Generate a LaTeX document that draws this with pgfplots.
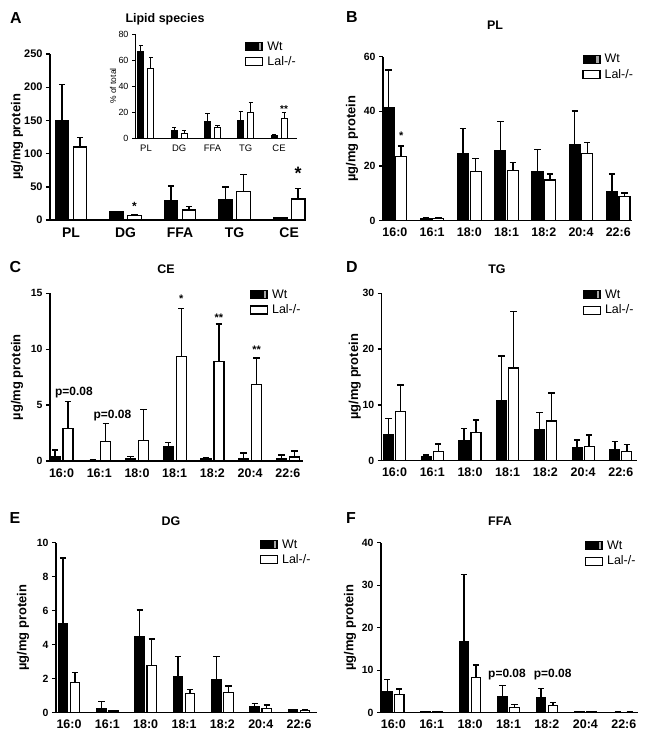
\documentclass[border=0pt]{standalone}
\usepackage{fontspec}
\setmainfont{Liberation Sans}
\usepackage{pgfplots}
\pgfplotsset{compat=1.18}
\usepackage{pgfplotstable}

% x wt (mean) wtt (mean+SD) lal lalt
\pgfplotstableread{
x wt wtt lal lalt
0 149 204 110 124.5
1 12.6 13.2 6.5 8.6
2 29 51 15.2 20.7
3 31 49.5 43.3 68.7
4 3.5 4.2 31.5 47.5
}\dataA
\pgfplotstableread{
x wt wtt lal lalt
0 66.5 71 53.7 62.1
1 5.9 8.4 3.8 5.9
2 12.5 19.2 7.7 10
3 13.5 20.4 19.9 27.3
4 1.8 3 14.8 19.7
}\dataAi
\pgfplotstableread{
x wt wtt lal lalt
0 41.5 55.1 23.4 27.3
1 0.8 1.0 0.9 1.1
2 24.6 33.8 17.9 22.8
3 25.6 36.2 18.5 21.3
4 17.9 26.1 14.9 17.1
5 28 40.1 24.6 28.7
6 10.6 17.1 8.8 10.2
}\dataB
\pgfplotstableread{
x wt wtt lal lalt
0 0.4 1.0 2.9 5.3
1 0.08 0.1 1.73 3.37
2 0.2 0.4 1.8 4.6
3 1.28 1.67 9.33 13.66
4 0.25 0.3 8.9 12.26
5 0.25 0.7 6.86 9.2
6 0.25 0.55 0.35 0.9
}\dataC
\pgfplotstableread{
x wt wtt lal lalt
0 4.6 7.6 8.8 13.6
1 0.7 1.0 1.6 3.0
2 3.6 5.8 5.1 7.3
3 10.7 18.8 16.6 26.7
4 5.5 8.6 7.1 12.1
5 2.3 3.7 2.6 4.6
6 2.0 3.4 1.6 2.9
}\dataD
\pgfplotstableread{
x wt wtt lal lalt
0 5.25 9.1 1.76 2.37
1 0.24 0.65 0.1 0.12
2 4.47 6.04 2.76 4.33
3 2.12 3.3 1.14 1.37
4 1.96 3.3 1.2 1.57
5 0.35 0.55 0.25 0.45
6 0.16 0.2 0.12 0.15
}\dataE
\pgfplotstableread{
x wt wtt lal lalt
0 4.9 7.8 4.2 5.6
1 0.2 0.25 0.2 0.25
2 16.8 32.5 8.2 11.2
3 3.9 6.35 1.2 2.0
4 3.6 5.7 1.65 2.35
5 0.15 0.2 0.15 0.2
6 0.1 0.12 0.1 0.12
}\dataF

\pgfplotsset{
 panel/.style={
  scale only axis, axis lines*=left, clip=false, ymin=0, ybar,
  axis line style={line width=1.4bp},
  tick style={line width=1.4bp, black},
  major tick length=4bp, tick align=outside,
  xtick style={draw=none},
  xtick={0,...,6}, xticklabels={16:0,16:1,18:0,18:1,18:2,20:4,22:6},
  /pgf/number format/assume math mode=true,
  yticklabel style={font=\fontsize{10.5}{12}\selectfont\bfseries},
  xticklabel style={font=\fontsize{12.5}{14}\selectfont\bfseries},
  ylabel={µg/mg protein},
  ylabel style={font=\fontsize{13}{15}\selectfont\bfseries, at={(axis description cs:0,0.5)}, anchor=center},
  legend style={draw=none, fill=none, inner sep=0pt, outer sep=0pt,
    font=\fontsize{12.5}{14}\selectfont, row sep=2bp, anchor=north east,
    nodes={inner sep=1.5bp},
    /tikz/every odd column/.append style={column sep=2.5bp}},
  legend cell align=left,
 },
 eb/.style={
   error bars/y dir=plus, error bars/y explicit,
   error bars/error bar style={line width=1.4bp, black},
   error bars/error mark options={rotate=90, line width=1.4bp, mark size=3.2bp, black},
 },
 wt/.style={fill=black, draw=black, line width=1.2bp, eb,
   legend image code/.code={\draw[fill=black,draw=black,line width=1bp] (0bp,-4bp) rectangle (17bp,4bp);
     \fill[gray!70] (13.8bp,-2.8bp) rectangle (15bp,2.8bp);}},
 lal/.style={fill=white, draw=black, line width=1.2bp, eb,
   legend image code/.code={\draw[fill=white,draw=black,line width=1.2bp] (0bp,-4bp) rectangle (17bp,4bp);}},
}

\newcommand{\ann}[1]{\fontsize{#1}{#1}\selectfont\bfseries}

\begin{document}
\begin{tikzpicture}
\useasboundingbox (0,0) rectangle (650bp,-737bp);

% ---------- A main
\begin{axis}[panel, at={(50bp,-220bp)}, anchor=south west,
  width=255bp, height=166bp, xmin=-0.385, xmax=4.29, ymax=250,
  ytick={0,50,...,250}, xtick={0,...,4}, xticklabels={PL,DG,FFA,TG,CE},
  yticklabel style={font=\fontsize{11}{12}\selectfont\bfseries},
  xticklabel style={font=\fontsize{14}{16}\selectfont\bfseries},
  ylabel style={yshift=33bp},
  legend style={at={(rel axis cs:0.97,1.084)}}]
\addplot[wt, bar width=13.5bp, bar shift=-9bp] table[x=x,y=wt,y error expr=\thisrow{wtt}-\thisrow{wt}] {\dataA};
\addplot[lal, bar width=13.5bp, bar shift=9bp] table[x=x,y=lal,y error expr=\thisrow{lalt}-\thisrow{lal}] {\dataA};
\legend{Wt,Lal-/-}
\node[font=\ann{12}] at (axis cs:1,25) [xshift=9bp, yshift=-2.6bp] {*};
\node[font=\ann{18}] at (axis cs:4,75.7) [xshift=9bp, yshift=-4bp] {*};
\end{axis}

% ---------- A inset
\begin{axis}[panel, at={(135bp,-138bp)}, anchor=south west,
  width=162bp, height=104bp, xmin=-0.33, xmax=4.54, ymax=80,
  axis line style={line width=1bp}, tick style={line width=1bp, black}, major tick length=3bp,
  ytick={0,20,...,80}, xtick={0,...,4}, xticklabels={PL,DG,FFA,TG,CE},
  yticklabel style={font=\fontsize{9}{10}\selectfont},
  xticklabel style={font=\fontsize{9.5}{10}\selectfont},
  ylabel={\% of total},
  ylabel style={font=\fontsize{8.5}{10}\selectfont, yshift=22bp}]
\addplot[wt, line width=1bp, bar width=6bp, bar shift=-5bp,
  error bars/error bar style={line width=1bp}, error bars/error mark options={rotate=90, line width=1bp, mark size=2.2bp}]
  table[x=x,y=wt,y error expr=\thisrow{wtt}-\thisrow{wt}] {\dataAi};
\addplot[lal, line width=1bp, bar width=6bp, bar shift=5bp,
  error bars/error bar style={line width=1bp}, error bars/error mark options={rotate=90, line width=1bp, mark size=2.2bp}]
  table[x=x,y=lal,y error expr=\thisrow{lalt}-\thisrow{lal}] {\dataAi};
\node[font=\ann{10}] at (axis cs:4,23.6) [xshift=5bp, yshift=-2.2bp] {**};
\end{axis}

% ---------- B
\begin{axis}[panel, at={(383bp,-220.7bp)}, anchor=south west,
  width=249bp, height=164bp, xmin=-0.32, xmax=6.37, ymax=60,
  ytick={0,20,40,60}, ylabel style={yshift=31bp},
  legend style={at={(rel axis cs:1.01,1.024)}}]
\addplot[wt, bar width=11bp, bar shift=-6.25bp] table[x=x,y=wt,y error expr=\thisrow{wtt}-\thisrow{wt}] {\dataB};
\addplot[lal, bar width=11bp, bar shift=6.25bp] table[x=x,y=lal,y error expr=\thisrow{lalt}-\thisrow{lal}] {\dataB};
\legend{Wt,Lal-/-}
\node[font=\ann{11}] at (axis cs:0,32) [xshift=6.25bp, yshift=-2.4bp] {*};
\end{axis}

% ---------- C
\begin{axis}[panel, at={(50bp,-461bp)}, anchor=south west,
  width=253bp, height=167.7bp, xmin=-0.305, xmax=6.40, ymax=15,
  ytick={0,5,10,15}, ylabel style={yshift=33bp},
  legend style={at={(rel axis cs:0.996,1.03)}}]
\addplot[wt, bar width=10bp, bar shift=-6.5bp] table[x=x,y=wt,y error expr=\thisrow{wtt}-\thisrow{wt}] {\dataC};
\addplot[lal, bar width=10bp, bar shift=6.5bp] table[x=x,y=lal,y error expr=\thisrow{lalt}-\thisrow{lal}] {\dataC};
\legend{Wt,Lal-/-}
\node[font=\ann{12}] at (axis cs:0.33,6.1) {p=0.08};
\node[font=\ann{12}] at (axis cs:1.35,4.1) {p=0.08};
\node[font=\ann{11}] at (axis cs:3,14.7) [xshift=6.5bp, yshift=-2.4bp] {*};
\node[font=\ann{11}] at (axis cs:4,13.06) [xshift=6.5bp, yshift=-2.4bp] {**};
\node[font=\ann{11}] at (axis cs:5,10.2) [xshift=6.5bp, yshift=-2.4bp] {**};
\end{axis}

% ---------- D
\begin{axis}[panel, at={(381.7bp,-460.7bp)}, anchor=south west,
  width=255bp, height=167.4bp, xmin=-0.34, xmax=6.42, ymax=30,
  ytick={0,10,20,30}, ylabel style={yshift=27bp},
  legend style={at={(rel axis cs:0.993,1.03)}}]
\addplot[wt, bar width=10bp, bar shift=-6bp] table[x=x,y=wt,y error expr=\thisrow{wtt}-\thisrow{wt}] {\dataD};
\addplot[lal, bar width=10bp, bar shift=6bp] table[x=x,y=lal,y error expr=\thisrow{lalt}-\thisrow{lal}] {\dataD};
\legend{Wt,Lal-/-}
\end{axis}

% ---------- E
\begin{axis}[panel, at={(56bp,-712.7bp)}, anchor=south west,
  width=260.7bp, height=170bp, xmin=-0.34, xmax=6.46, ymax=10,
  ytick={0,2,...,10}, ylabel style={yshift=33bp},
  legend style={at={(rel axis cs:0.982,1.028)}}]
\addplot[wt, bar width=9.5bp, bar shift=-6bp] table[x=x,y=wt,y error expr=\thisrow{wtt}-\thisrow{wt}] {\dataE};
\addplot[lal, bar width=9.5bp, bar shift=6bp] table[x=x,y=lal,y error expr=\thisrow{lalt}-\thisrow{lal}] {\dataE};
\legend{Wt,Lal-/-}
\end{axis}

% ---------- F
\begin{axis}[panel, at={(381bp,-712.7bp)}, anchor=south west,
  width=257bp, height=170bp, xmin=-0.32, xmax=6.37, ymax=40,
  ytick={0,10,...,40}, ylabel style={yshift=31bp},
  legend style={at={(rel axis cs:0.996,1.02)}}]
\addplot[wt, bar width=9.5bp, bar shift=-6bp] table[x=x,y=wt,y error expr=\thisrow{wtt}-\thisrow{wt}] {\dataF};
\addplot[lal, bar width=9.5bp, bar shift=6bp] table[x=x,y=lal,y error expr=\thisrow{lalt}-\thisrow{lal}] {\dataF};
\legend{Wt,Lal-/-}
\node[font=\ann{12}] at (axis cs:2.96,8.9) {p=0.08};
\node[font=\ann{12}] at (axis cs:4.15,8.9) {p=0.08};
\end{axis}

% ---------- panel letters and titles
\begin{scope}[every node/.style={anchor=base, inner sep=0pt}]
\node[font=\ann{16}] at (16bp,-23bp) {A};
\node[font=\ann{16}] at (352bp,-22bp) {B};
\node[font=\ann{16}] at (15.5bp,-272bp) {C};
\node[font=\ann{16}] at (352bp,-272bp) {D};
\node[font=\ann{16}] at (15bp,-523bp) {E};
\node[font=\ann{16}] at (351bp,-523bp) {F};
\node[font=\ann{12.5}] at (165bp,-22bp) {Lipid species};
\node[font=\ann{12.5}] at (495bp,-29bp) {PL};
\node[font=\ann{12.5}] at (166bp,-273bp) {CE};
\node[font=\ann{12.5}] at (497bp,-273bp) {TG};
\node[font=\ann{12.5}] at (171bp,-525bp) {DG};
\node[font=\ann{12.5}] at (500bp,-525bp) {FFA};
\end{scope}
\end{tikzpicture}
\end{document}
